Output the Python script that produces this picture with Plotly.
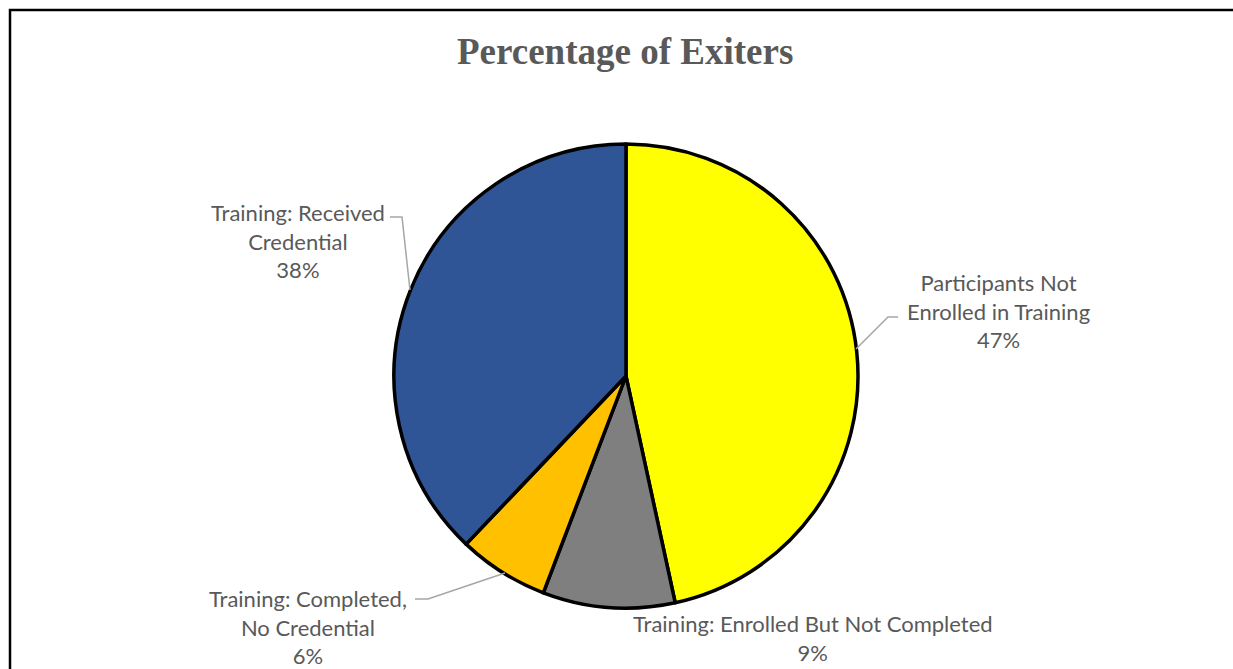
import plotly.graph_objects as go

# ---- data ----
categories = ["Participants Not Enrolled in Training",
              "Training: Enrolled But Not Completed",
              "Training: Completed, No Credential",
              "Training: Received Credential"]
values = [46.6, 9.2, 6.3, 37.9]
pct_labels = ["47%", "9%", "6%", "38%"]
label_lines = [["Participants Not", "Enrolled in Training"],
               ["Training: Enrolled But Not Completed"],
               ["Training: Completed,", "No Credential"],
               ["Training: Received", "Credential"]]
colors = ["#FFFF00", "#7F7F7F", "#FFC000", "#2F5597"]

W, H = 1233, 669


def px(x):
    return x / W


def py(y):
    return 1 - y / H


fig = go.Figure(go.Pie(
    labels=categories, values=values, sort=False, direction="clockwise",
    rotation=0, textinfo="none", hoverinfo="label+percent",
    marker=dict(colors=colors, line=dict(color="#000000", width=3.5)),
    domain=dict(x=[px(394), px(858)], y=[py(608), py(144)]),
    showlegend=False,
))

# label positions (layout)
label_pos = [(998, 311), (813, 638), (308, 627), (298, 241)]
annotations = []
for lines, pct, (x, y) in zip(label_lines, pct_labels, label_pos):
    annotations.append(dict(
        text="<br>".join(lines + [pct]), x=px(x), y=py(y), xref="paper", yref="paper",
        xanchor="center", yanchor="middle", showarrow=False, align="center",
        font=dict(family="Lato", size=22, color="#595959")))

annotations.append(dict(
    text="<b>Percentage of Exiters</b>", x=px(625), y=py(51), xref="paper", yref="paper",
    xanchor="center", yanchor="middle", showarrow=False,
    font=dict(family="Liberation Serif", size=37, color="#595959")))

leader = [
    [(898, 317), (888, 317), (856, 349)],
    [(415, 599), (428, 599), (505, 573)],
    [(390, 217), (402, 217), (410, 290)],
]
shapes = []
for pts in leader:
    path = "M " + " L ".join(f"{px(a)},{py(b)}" for a, b in pts)
    shapes.append(dict(type="path", path=path, xref="paper", yref="paper",
                       line=dict(color="#A6A6A6", width=1.5)))

# chart border (top and left edges visible; right/bottom fall outside the frame)
border = [(10, 700), (10, 10), (1280, 10)]
shapes.append(dict(type="path",
                   path="M " + " L ".join(f"{px(a)},{py(b)}" for a, b in border),
                   xref="paper", yref="paper", line=dict(color="#000000", width=2.5)))

fig.update_layout(
    width=W, height=H, margin=dict(l=0, r=0, t=0, b=0),
    paper_bgcolor="white", plot_bgcolor="white",
    annotations=annotations, shapes=shapes,
)

fig.write_html("out.html", config={"displayModeBar": False},
               post_script="document.body.style.margin='0';document.body.style.overflow='hidden';")
